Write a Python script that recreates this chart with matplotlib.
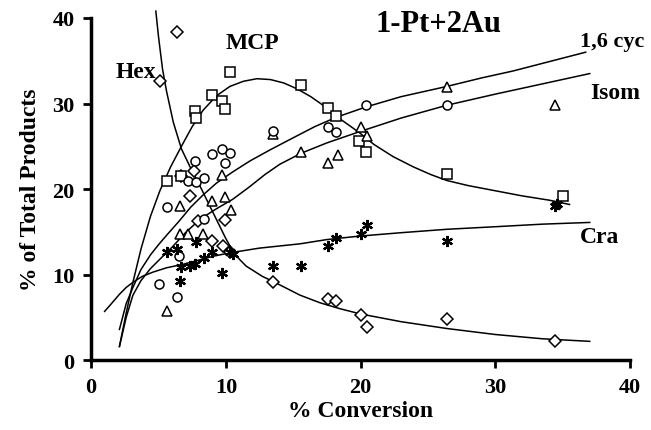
import matplotlib
matplotlib.use('Agg')
import matplotlib.pyplot as plt

plt.rcParams['font.family'] = ['Liberation Serif', 'DejaVu Serif']
plt.rcParams['font.weight'] = 'bold'

# measured points, % conversion vs % of total products
hex_x = [6.4, 5.1, 6.7, 7.6, 7.3, 7.9, 9.9, 9.0, 9.8, 10.3, 13.5, 17.6, 18.2, 20.0, 20.5, 26.4, 34.4]
hex_y = [38.4, 32.6, 21.5, 22.1, 19.2, 16.3, 16.4, 13.9, 13.3, 12.6, 9.1, 7.1, 6.9, 5.3, 3.9, 4.8, 2.2]

mcp_x = [10.3, 15.6, 9.0, 9.7, 9.9, 7.7, 7.8, 5.6, 6.7, 17.6, 18.2, 19.9, 20.4, 26.4, 35.0]
mcp_y = [33.7, 32.2, 31.0, 30.3, 29.4, 29.1, 28.3, 20.9, 21.5, 29.5, 28.5, 25.6, 24.3, 21.8, 19.2]

cyc_x = [26.4, 34.4, 15.6, 17.6, 18.3, 20.0, 20.5, 13.5, 9.7, 6.6, 9.0, 9.9, 10.4, 6.6, 7.2, 8.3, 5.6]
cyc_y = [31.9, 29.8, 24.3, 23.0, 24.0, 27.2, 26.2, 26.4, 21.6, 18.0, 18.6, 19.1, 17.5, 14.7, 14.7, 14.7, 5.7]

isom_x = [5.0, 6.4, 6.5, 5.6, 7.2, 7.8, 8.4, 7.7, 9.0, 9.7, 10.3, 9.9, 8.4, 13.5, 17.6, 18.2, 20.4, 26.4]
isom_y = [8.9, 7.4, 12.2, 17.9, 20.9, 20.8, 21.3, 23.3, 24.1, 24.7, 24.2, 23.0, 16.5, 26.8, 27.2, 26.7, 29.8, 29.8]

cra_x = [5.6, 6.4, 7.8, 9.0, 10.3, 10.5, 6.7, 7.3, 7.7, 8.4, 9.7, 6.6, 13.5, 15.6, 17.6, 18.2, 20.0, 20.5, 26.4, 34.4, 34.6]
cra_y = [12.6, 13.0, 13.8, 12.7, 12.6, 12.4, 10.9, 11.0, 11.2, 12.0, 10.2, 9.2, 11.0, 11.0, 13.4, 14.3, 14.7, 15.8, 13.9, 18.0, 18.2]

# hand drawn trend lines
hex_fit_x = [4.8, 5.0, 5.3, 5.6, 6.1, 6.7, 7.4, 8.0, 9.0, 10.0, 10.5, 11.0, 11.5, 12.0, 12.7, 13.5,
             14.5, 15.5, 17.0, 18.5, 20.0, 23.0, 26.4, 30.0, 33.5, 37.0]
hex_fit_y = [40.8, 37.8, 34.0, 31.4, 27.8, 24.7, 22.4, 20.6, 17.4, 14.2, 12.8, 11.8, 11.0, 10.5, 9.8, 9.2,
             8.4, 7.6, 6.7, 6.0, 5.4, 4.5, 3.7, 3.0, 2.5, 2.2]

mcp_fit_x = [2.1, 2.6, 3.1, 3.7, 4.4, 5.1, 5.9, 6.7, 7.5, 8.3, 9.3, 10.3, 11.3, 12.3, 13.3, 14.3, 15.3,
             16.3, 17.3, 18.2, 19.1, 19.9, 21.0, 22.4, 23.9, 25.2, 26.4, 28.0, 30.0, 32.0, 34.0, 35.5]
mcp_fit_y = [1.6, 5.5, 9.1, 13.0, 16.8, 19.8, 22.6, 25.0, 27.3, 29.2, 30.9, 32.0, 32.6, 32.9, 32.8, 32.4, 31.7,
             30.8, 29.7, 28.5, 27.5, 26.6, 25.2, 23.8, 22.6, 21.7, 21.0, 20.4, 19.8, 19.2, 18.7, 18.2]

cyc_fit_x = [2.1, 2.6, 3.1, 3.7, 4.4, 5.0, 5.6, 6.5, 7.4, 8.3, 9.3, 10.5, 11.8, 13.3, 15.0, 16.6, 18.2,
             20.4, 23.0, 26.4, 29.0, 31.3, 34.0, 36.7]
cyc_fit_y = [3.6, 6.6, 8.5, 10.6, 12.3, 13.5, 14.6, 16.2, 17.9, 19.3, 20.7, 22.0, 23.3, 24.6, 26.0, 27.3, 28.4,
             29.6, 30.8, 32.0, 33.0, 33.8, 34.9, 36.0]

isom_fit_x = [2.1, 2.6, 3.1, 3.7, 4.4, 5.1, 6.0, 7.0, 8.1, 9.3, 10.5, 11.7, 12.9, 14.0, 15.6, 17.5, 19.9,
              23.0, 26.4, 30.0, 33.5, 37.0]
isom_fit_y = [1.6, 5.0, 7.6, 9.3, 10.7, 11.8, 13.2, 14.9, 16.5, 17.7, 18.8, 20.2, 21.7, 22.9, 24.2, 25.4, 26.7,
              28.3, 29.8, 31.1, 32.3, 33.5]

cra_fit_x = [1.0, 1.5, 2.1, 2.6, 3.1, 3.8, 4.6, 5.6, 6.8, 8.0, 9.2, 10.5, 12.5, 15.5, 17.5, 19.9, 23.0,
             26.4, 30.0, 33.5, 37.0]
cra_fit_y = [5.7, 6.6, 7.7, 8.5, 9.1, 9.8, 10.3, 10.8, 11.2, 11.7, 12.2, 12.6, 13.1, 13.6, 14.1, 14.5, 14.9,
             15.3, 15.6, 15.9, 16.1]

x_ticks = [0, 10, 20, 30, 40]
y_ticks = [0, 10, 20, 30, 40]

fig = plt.figure(figsize=(6.51, 4.31), dpi=100)
ax = fig.add_axes([0.14, 0.162, 0.828, 0.794])

for fx, fy in [(hex_fit_x, hex_fit_y), (mcp_fit_x, mcp_fit_y), (cyc_fit_x, cyc_fit_y),
               (isom_fit_x, isom_fit_y), (cra_fit_x, cra_fit_y)]:
    ax.plot(fx, fy, color='black', lw=1.1, clip_on=False, zorder=2)

mk = dict(ls='none', mfc='white', mec='black', mew=1.1, zorder=3)
ax.plot(hex_x, hex_y, marker='D', ms=6, **mk)
ax.plot(mcp_x, mcp_y, marker='s', ms=6.5, **mk)
ax.plot(cyc_x, cyc_y, marker='^', ms=6.5, **mk)
ax.plot(isom_x, isom_y, marker='o', ms=6.5, **mk)
ax.plot(cra_x, cra_y, ls='none', marker=(6, 2, 0), ms=8, mec='black', mew=1.6, zorder=3)

ax.set_xlim(0, 40)
ax.set_ylim(0, 40)
ax.set_xticks(x_ticks)
ax.set_yticks(y_ticks)
ax.tick_params(direction='out', length=6, width=2, labelsize=16, pad=6)
for lab in ax.get_xticklabels() + ax.get_yticklabels():
    lab.set_fontweight('bold')
ax.spines['top'].set_visible(False)
ax.spines['right'].set_visible(False)
ax.spines['left'].set_linewidth(2.5)
ax.spines['bottom'].set_linewidth(2.5)

ax.set_xlabel('% Conversion', fontsize=17, fontweight='bold', labelpad=2)
ax.set_ylabel('% of Total Products', fontsize=17, fontweight='bold', labelpad=8)

txt = dict(ha='center', va='center', fontweight='bold', clip_on=False)
ax.text(25.8, 39.4, '1-Pt+2Au', fontsize=22, **txt)
ax.text(3.3, 33.8, 'Hex', fontsize=17, **txt)
ax.text(12.0, 37.1, 'MCP', fontsize=17, **txt)
ax.text(38.7, 37.3, '1,6 cyc', fontsize=16, **txt)
ax.text(38.9, 31.3, 'Isom', fontsize=17, **txt)
ax.text(37.7, 14.4, 'Cra', fontsize=17, **txt)

fig.savefig('out.png', dpi=100)
